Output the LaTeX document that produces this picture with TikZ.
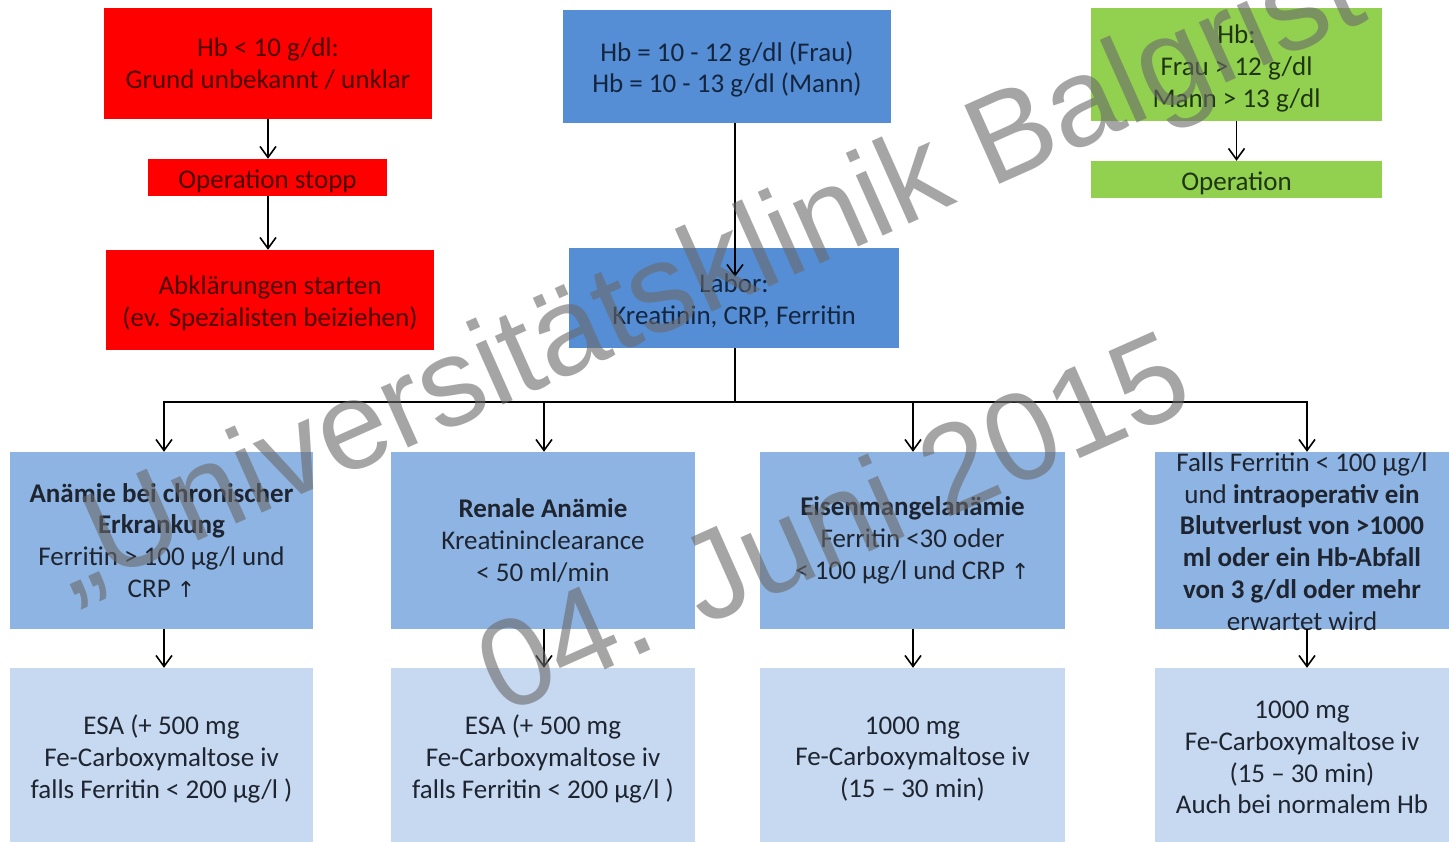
\documentclass[tikz,border=0pt]{standalone}
\usepackage{fontspec}
\setmainfont{Carlito}
\newfontfamily\wmfont{Liberation Sans}
\newfontfamily\symfont{DejaVu Sans}
\usetikzlibrary{arrows.meta,calc}
\definecolor{cred}{HTML}{FF0000}
\definecolor{cblueA}{HTML}{558ED5}
\definecolor{cblueB}{HTML}{8EB4E3}
\definecolor{cblueC}{HTML}{C6D9F1}
\definecolor{cgreen}{HTML}{92D050}
\definecolor{tred}{HTML}{4A0000}
\definecolor{tblue}{HTML}{14253F}
\definecolor{tgreen}{HTML}{1E3510}
\definecolor{tdark}{HTML}{1E2430}
\definecolor{wmgray}{RGB}{105,105,105}
\newcommand{\uparr}{{\symfont\fontsize{22}{32}\selectfont ↑}}
\begin{document}
\begin{tikzpicture}[x=1pt,y=-1pt,
  box/.style={inner sep=0pt},
  redbox/.style={box, fill=cred},
  topblue/.style={box, fill=cblueA},
  greenbox/.style={box, fill=cgreen},
  midbox/.style={box, fill=cblueB, minimum width=#1, minimum height=177pt},
  lowbox/.style={box, fill=cblueC, minimum width=#1, minimum height=174pt},
  txt/.style={inner sep=0pt, align=center, text=tdark, font=\fontsize{27}{31.8}\selectfont},
  arr/.style={draw=black, line width=1.6pt, -{Straight Barb[length=11pt,width=16pt,line width=1.6pt]}},
  ln/.style={draw=black, line width=1.6pt},
  wm/.style={inner sep=0pt, text=wmgray, text opacity=0.6, font=\wmfont\fontsize{125}{125}\selectfont, rotate=24, anchor=base west}
]
\useasboundingbox (0,0) rectangle (1449,842);
\fill[white] (0,0) rectangle (1449,842);

% top row boxes
\node[redbox, minimum width=328pt, minimum height=111pt] (r1) at (268,63.5) {};
\node[redbox, minimum width=239pt, minimum height=37pt] (r2) at (267.5,177.5) {};
\node[redbox, minimum width=328pt, minimum height=100pt] (r3) at (270,300) {};
\node[topblue, minimum width=328pt, minimum height=113pt] (b1) at (727,66.5) {};
\node[topblue, minimum width=330pt, minimum height=100pt] (lab) at (734,298) {};
\node[greenbox, minimum width=291pt, minimum height=113pt] (g1) at (1236.5,64.5) {};
\node[greenbox, minimum width=291pt, minimum height=37pt] (g2) at (1236.5,179.5) {};

% top row texts
\node[txt, text=tred] (r1t) at ([yshift=-0.5pt]r1.center) {Hb < 10 g/dl:\\Grund unbekannt / unklar};
\node[txt, text=tred] (r2t) at ([yshift=-3.5pt]r2.center) {Operation stopp};
\node[txt, text=tred] (r3t) at ([yshift=-3pt]r3.center) {Abklärungen starten\\(ev. Spezialisten beiziehen)};
\node[txt, text=tblue] (b1t) at ([yshift=-3pt]b1.center) {Hb = 10 - 12 g/dl (Frau)\\Hb = 10 - 13 g/dl (Mann)};
\node[txt, text=tblue] (labt) at ([yshift=-3pt]lab.center) {Labor:\\Kreatinin, CRP, Ferritin};
\node[txt, text=tgreen] (g1t) at ([yshift=-4pt]g1.center) {Hb:\\Frau > 12 g/dl\\Mann > 13 g/dl};
\node[txt, text=tgreen] (g2t) at ([yshift=-4pt]g2.center) {Operation};

% middle row
\node[midbox=303pt] (c1) at (161.5,540.5) {};
\node[midbox=304pt] (c2) at (543,540.5) {};
\node[midbox=305pt] (c3) at (912.5,540.5) {};
\node[midbox=294pt] (c4) at (1302,540.5) {};
\node[txt] (c1t) at (c1) {\textbf{Anämie bei chronischer}\\\textbf{Erkrankung}\\Ferritin > 100 µg/l und\\CRP \uparr};
\node[txt] (c2t) at (c2) {\textbf{Renale Anämie}\\Kreatininclearance\\< 50 ml/min};
\node[txt] (c3t) at (c3) {\textbf{Eisenmangelanämie}\\Ferritin <30 oder\\< 100 µg/l und CRP \uparr};
\node[txt] (c4t) at ([yshift=-1pt]c4.center) {Falls Ferritin < 100 µg/l\\und \textbf{intraoperativ ein}\\\textbf{Blutverlust von >1000}\\\textbf{ml oder ein Hb-Abfall}\\\textbf{von 3 g/dl oder mehr}\\erwartet wird};

% bottom row
\node[lowbox=303pt] (d1) at (161.5,755) {};
\node[lowbox=304pt] (d2) at (543,755) {};
\node[lowbox=305pt] (d3) at (912.5,755) {};
\node[lowbox=294pt] (d4) at (1302,755) {};
\node[txt] (d1t) at ([yshift=-4pt]d1.center) {ESA (+ 500 mg\\Fe-Carboxymaltose iv\\falls Ferritin < 200 µg/l )};
\node[txt] (d2t) at ([yshift=-4pt]d2.center) {ESA (+ 500 mg\\Fe-Carboxymaltose iv\\falls Ferritin < 200 µg/l )};
\node[txt] (d3t) at ([yshift=-4pt]d3.center) {1000 mg\\Fe-Carboxymaltose iv\\(15 – 30 min)};
\node[txt] (d4t) at ([yshift=-2.5pt]d4.center) {1000 mg\\Fe-Carboxymaltose iv\\(15 – 30 min)\\Auch bei normalem Hb};

% connectors
\draw[arr] (r1.south) -- (r1.south |- r2.north);
\draw[arr] (r1.south |- r2.south) -- (r1.south |- r3.north);
\draw[arr] (g1.south) -- (g2.north);
\draw[arr] ([xshift=8pt]b1.south) -- ([xshift=1pt,yshift=-29pt]lab.north);
\coordinate (bus) at (735,402);
\draw[ln] ([xshift=1pt]lab.south) -- (bus);
\draw[arr] (bus) -| ([xshift=2.5pt]c1.north);
\draw[arr] (bus) -| ([xshift=1pt]c2.north);
\draw[arr] (bus) -| ([xshift=0.5pt]c3.north);
\draw[arr] (bus) -| ([xshift=5pt]c4.north);
\draw[arr] ([xshift=2.5pt]c1.south) -- ([xshift=2.5pt]d1.north);
\draw[arr] ([xshift=1pt]c2.south) -- ([xshift=1pt]d2.north);
\draw[arr] ([xshift=0.5pt]c3.south) -- ([xshift=0.5pt]d3.north);
\draw[arr] ([xshift=5pt]c4.south) -- ([xshift=5pt]d4.north);

% watermark
\node[wm] (wm1) at (70,598) {„Universitätsklinik Balgrist};
\node[wm] (wm2) at (502,716) {04. Juni 2015};
\end{tikzpicture}
\end{document}
